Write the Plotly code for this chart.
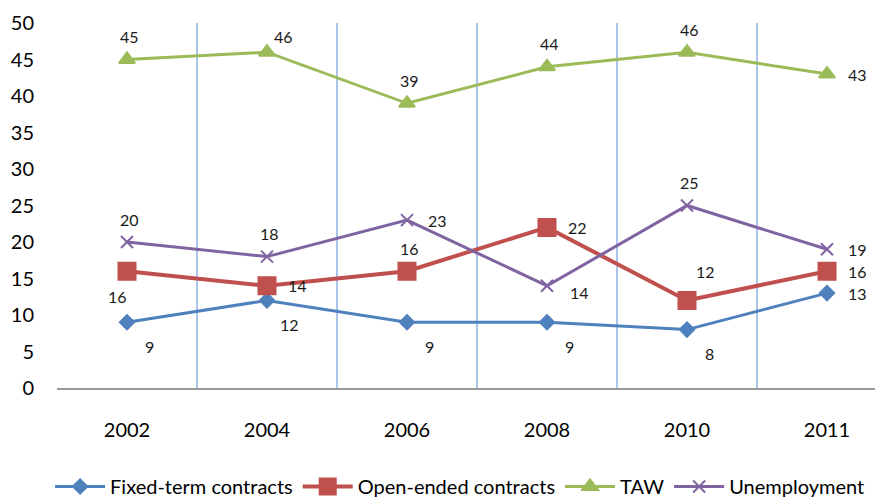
import plotly.graph_objs as go

years = ["2002", "2004", "2006", "2008", "2010", "2011"]
fixed_term = [9, 12, 9, 9, 8, 13]
open_ended = [16, 14, 16, 22, 12, 16]
taw = [45, 46, 39, 44, 46, 43]
unemployment = [20, 18, 23, 14, 25, 19]

# where each data label sits relative to its point (pixel shifts)
BR, MR, TC, TR, BC = (22, -24), (30, 0), (2, 23), (16, 16), (-10, -25)
fixed_pos = [BR, BR, BR, BR, BR, MR]
open_pos = [BC, MR, TC, MR, (18, 29), MR]
taw_pos = [TC, TR, TC, TC, TC, MR]
unemp_pos = [TC, TC, MR, (32, -7), TC, MR]

series = [
    ("Fixed-term contracts", fixed_term, fixed_pos, "#4F81BD", "diamond", 11, 3),
    ("Open-ended contracts", open_ended, open_pos, "#C0504D", "square", 17, 4),
    ("TAW", taw, taw_pos, "#9BBB59", "triangle-up", 14, 3),
    ("Unemployment", unemployment, unemp_pos, "#8064A2", "x-thin-open", 12, 3),
]

FONT = "Lato, Carlito, Liberation Sans"

fig = go.Figure()
annotations = []
for name, vals, pos, color, sym, size, width in series:
    fig.add_trace(go.Scatter(
        x=years, y=vals, name=name, mode="lines+markers",
        line=dict(color=color, width=width),
        marker=dict(symbol=sym, size=size, color=color,
                    line=dict(color=color, width=2)),
    ))
    # category index as x so the label lands on the point
    for i, (v, (dx, dy)) in enumerate(zip(vals, pos)):
        annotations.append(dict(
            x=i, y=v, xref="x", yref="y", text=str(v), showarrow=False,
            xshift=dx, yshift=dy,
            font=dict(family=FONT, size=16, color="#1a1a1a"),
        ))

# page body adds an 8px margin, so margins are trimmed by 8px
fig.update_layout(
    width=875, height=498,
    margin=dict(l=49, r=0, t=15, b=118),
    paper_bgcolor="white", plot_bgcolor="white",
    annotations=annotations,
    showlegend=True,
    legend=dict(orientation="h", x=0.488, xanchor="center", y=-0.271,
                yanchor="middle", itemwidth=50,
                font=dict(family=FONT, size=20, color="#000")),
    font=dict(family=FONT),
)
fig.update_xaxes(
    type="category", range=[-0.5, 5.4], tickson="boundaries",
    showgrid=True, gridcolor="#AAC4EB", gridwidth=2,
    showline=True, linecolor="#999999", linewidth=2,
    ticks="", ticklabelstandoff=23, automargin=False,
    tickfont=dict(family=FONT, size=20, color="#000"),
    zeroline=False,
)
fig.update_yaxes(
    range=[0, 50], dtick=5, showgrid=False, zeroline=False,
    showline=False, ticks="", ticklabelstandoff=22, automargin=False,
    tickfont=dict(family=FONT, size=20, color="#000"),
)

fig.write_html("out.html")
